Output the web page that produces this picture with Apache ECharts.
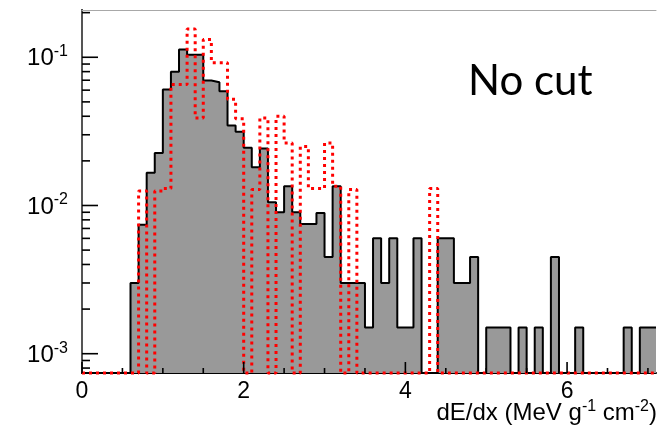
<!DOCTYPE html>
<html>
<head>
<meta charset="utf-8">
<script src="https://cdn.jsdelivr.net/npm/echarts@6/dist/echarts.min.js"></script>
<style>
  html, body { margin: 0; padding: 0; background: #fff; }
  #chart { width: 664px; height: 436px; }
</style>
</head>
<body>
<div id="chart"></div>
<script>
// Histograms of dE/dx, 0.1-wide bins from 0 to 7.1 (71 bins); 0 means an empty bin.
const binWidth = 0.1;

// Filled grey histogram
const measured = [
  0, 0, 0, 0, 0, 0, 0.0030, 0.0074, 0.0166, 0.0226,
  0.0605, 0.0797, 0.1127, 0.104, 0.104, 0.0697, 0.0678, 0.059, 0.0346, 0.0314,
  0.0245, 0.0181, 0.0242, 0.0105, 0.009, 0.0135, 0.009, 0.0075, 0.0075, 0.0089,
  0.0045, 0.0135, 0.003, 0.003, 0.003, 0.0015, 0.006, 0.003, 0.006, 0.0015,
  0.0015, 0.006, 0, 0, 0.006, 0.006, 0.003, 0.003, 0.0045, 0,
  0.0015, 0.0015, 0.0015, 0, 0.0015, 0, 0.0015, 0, 0.0045, 0,
  0, 0.0015, 0, 0, 0, 0, 0, 0.0015, 0, 0.0015,
  0.0015
];

// Red dotted histogram
const comparison = [
  0, 0, 0, 0, 0, 0, 0, 0.0125, 0, 0.0125,
  0.013, 0.0655, 0.0655, 0.155, 0.039, 0.132, 0.092, 0.092, 0.052, 0.0385,
  0, 0.0128, 0.039, 0, 0.04, 0.0264, 0, 0.025, 0.013, 0.013,
  0.0264, 0.0135, 0, 0.0128, 0, 0, 0, 0, 0, 0,
  0, 0, 0, 0.013, 0, 0, 0, 0, 0, 0,
  0, 0, 0, 0, 0, 0, 0, 0, 0, 0,
  0, 0, 0, 0, 0, 0, 0, 0, 0, 0,
  0
];

// Axis ranges and tick values
const xMin = 0, xMax = 7.1;
const yMin = 7.41e-4, yMax = 0.2084;
const xMajorTicks = [0, 2, 4, 6];
const xMinorTicks = [0.5, 1, 1.5, 2.5, 3, 3.5, 4.5, 5, 5.5, 6.5, 7];
const yMajorTicks = [1e-3, 1e-2, 1e-1];
const yMinorTicks = [8e-4, 9e-4,
  2e-3, 3e-3, 4e-3, 5e-3, 6e-3, 7e-3, 8e-3, 9e-3,
  2e-2, 3e-2, 4e-2, 5e-2, 6e-2, 7e-2, 8e-2, 9e-2,
  2e-1];

const FONT = '"Liberation Sans", Arial, sans-serif';

// Bin contents -> step points at the bin edges; empty bins sit on the axis floor.
function stepPoints(values) {
  const pts = values.map((v, i) => [+(i * binWidth).toFixed(2), v > 0 ? v : yMin]);
  const last = values[values.length - 1];
  pts.push([+(values.length * binWidth).toFixed(2), last > 0 ? last : yMin]);
  return pts;
}

function tickSeries(data, isX, len) {
  return {
    type: 'custom',
    silent: true,
    clip: false,
    z: 5,
    data: data.map(v => isX ? [v, yMin] : [xMin, v]),
    renderItem: function (params, api) {
      const p = api.coord([api.value(0), api.value(1)]);
      const shape = isX
        ? { x1: p[0], y1: p[1], x2: p[0], y2: p[1] - len }
        : { x1: p[0], y1: p[1], x2: p[0] + len, y2: p[1] };
      return { type: 'line', shape: shape, style: { stroke: '#000', lineWidth: 1.6 } };
    }
  };
}

const chart = echarts.init(document.getElementById('chart'));
chart.setOption({
  animation: false,
  backgroundColor: '#fff',
  grid: { left: 82, right: 8, top: 10, bottom: 63 },
  xAxis: [{
    type: 'value', min: xMin, max: xMax, interval: 2,
    axisLine: { onZero: false, lineStyle: { color: '#000', width: 2 } },
    axisTick: { show: false },
    splitLine: { show: false },
    axisLabel: { fontFamily: FONT, fontSize: 23, color: '#000', margin: 7, showMaxLabel: false }
  }, {
    type: 'value', min: xMin, max: xMax, position: 'top',
    axisLine: { onZero: false, lineStyle: { color: '#a8a8a8', width: 1 } },
    axisTick: { show: false }, axisLabel: { show: false }, splitLine: { show: false }
  }],
  yAxis: [{
    type: 'log', logBase: 10, min: yMin, max: yMax,
    axisLine: { lineStyle: { color: '#000', width: 2 } },
    axisTick: { show: false },
    splitLine: { show: false },
    axisLabel: {
      margin: 14,
      showMinLabel: false, showMaxLabel: false,
      formatter: function (v) {
        const l = Math.log10(v), e = Math.round(l);
        return Math.abs(l - e) < 1e-6 ? '{b|10}{s|' + e + '}' : '';
      },
      rich: {
        b: { fontFamily: FONT, fontSize: 24, color: '#000', verticalAlign: 'bottom' },
        s: { fontFamily: FONT, fontSize: 16, color: '#000', verticalAlign: 'top', padding: [0, 0, 11, 0] }
      }
    }
  }, {
    type: 'log', logBase: 10, min: yMin, max: yMax, position: 'right',
    axisLine: { lineStyle: { color: '#555', width: 2 } },
    axisTick: { show: false }, axisLabel: { show: false }, splitLine: { show: false }
  }],
  series: [{
    type: 'line',
    step: 'end',
    data: stepPoints(measured),
    showSymbol: false,
    silent: true,
    clip: true,
    lineStyle: { color: '#000', width: 2 },
    areaStyle: { color: '#999999', opacity: 1, origin: 'start' },
    z: 2
  }, {
    type: 'line',
    step: 'end',
    data: stepPoints(comparison),
    showSymbol: false,
    silent: true,
    clip: false,
    lineStyle: { color: '#ff0000', width: 3, type: [3, 4], cap: 'butt' },
    z: 3
  },
  tickSeries(xMajorTicks, true, 11),
  tickSeries(xMinorTicks, true, 5),
  tickSeries(yMajorTicks, false, 16),
  tickSeries(yMinorTicks, false, 8)
  ],
  graphic: [{
    type: 'text',
    right: 7, top: 399,
    style: {
      text: '{t|dE/dx (MeV g}{s|-1}{t| cm}{s|-2}{t|)}',
      rich: {
        t: { fontFamily: FONT, fontSize: 24, fill: '#000', verticalAlign: 'bottom' },
        s: { fontFamily: FONT, fontSize: 16, fill: '#000', verticalAlign: 'top', padding: [0, 0, 10, 0] }
      }
    }
  }, {
    type: 'text',
    left: 468, top: 60,
    style: { text: 'No cut', fontFamily: 'Lato, "Open Sans", sans-serif', fontSize: 42, fill: '#000' }
  }]
});
</script>
</body>
</html>
